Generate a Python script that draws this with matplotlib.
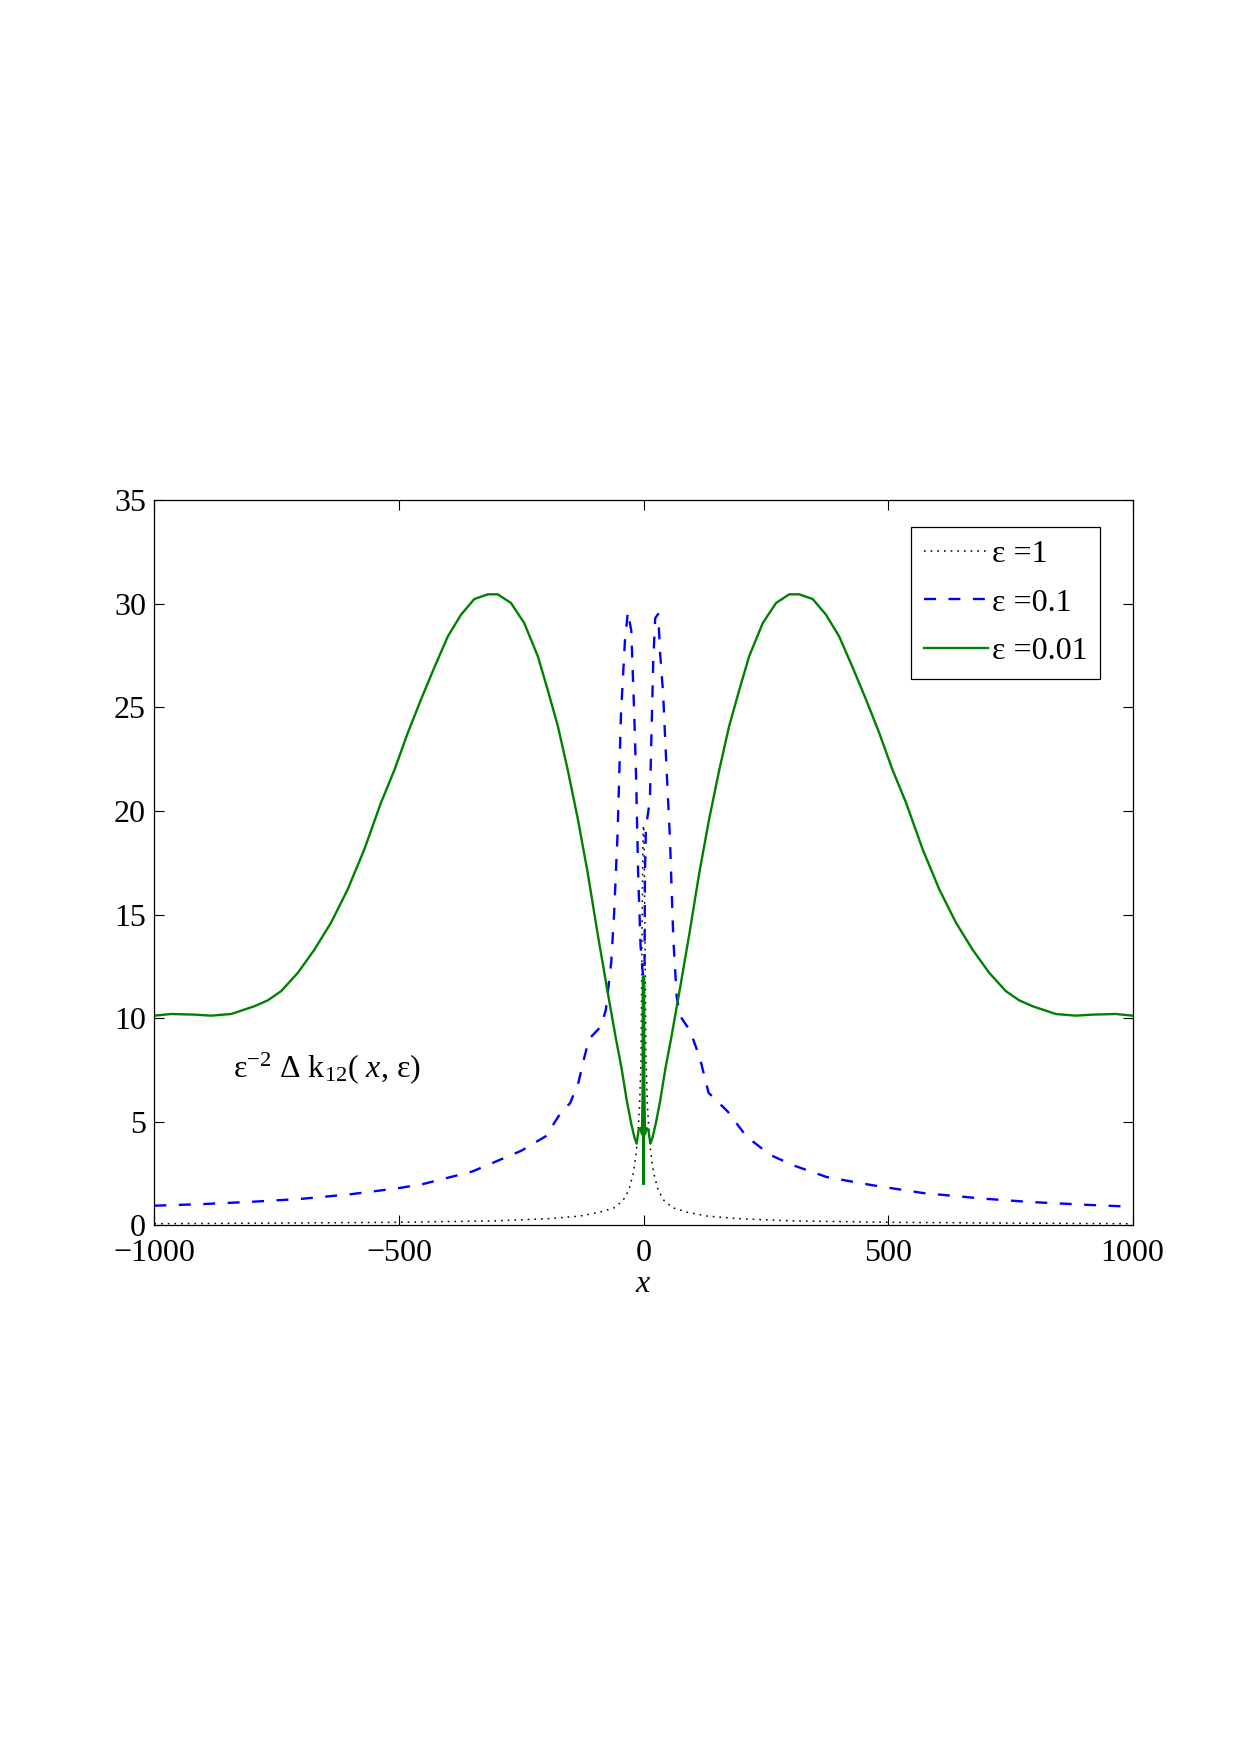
import matplotlib
matplotlib.use("Agg")
import matplotlib.pyplot as plt

plt.rcParams['font.family'] = ['Liberation Serif', 'DejaVu Serif']
plt.rcParams['mathtext.fontset'] = 'custom'
plt.rcParams['mathtext.rm'] = 'Liberation Serif'
plt.rcParams['mathtext.it'] = 'Liberation Serif:italic'
plt.rcParams['lines.scale_dashes'] = False

# ---- data ----
x_eps1 = [-1000, -750, -500, -300, -191, -130, -89, -60, -42, -30, -21, -16, -12, -8, -5, -3, -1, 0,
          1, 3, 5, 8, 12, 16, 21, 30, 42, 60, 89, 130, 191, 300, 500, 750, 1000]
y_eps1 = [0.08, 0.11, 0.15, 0.22, 0.33, 0.45, 0.64, 0.85, 1.2, 1.7, 2.5, 3.3, 4.2, 5.8, 8.0, 14.0, 19.0, 19.3,
          19.0, 14.0, 8.0, 5.8, 4.2, 3.3, 2.5, 1.7, 1.2, 0.85, 0.64, 0.45, 0.33, 0.22, 0.15, 0.11, 0.08]

x_eps01 = [-1000, -900, -800, -700, -600, -500, -450, -400, -350, -300, -250, -200, -170, -150, -133,
           -120, -111, -87, -77, -66, -60, -53, -46, -38, -32, -25, -19, -15, -11, -6, -2, 0,
           2, 3, 5, 13, 20, 24, 30, 34, 40, 47, 54, 61, 68, 75, 95, 115, 133, 172, 210, 259, 306, 375,
           470, 572, 695, 790, 899, 1000]
y_eps01 = [0.95, 1.03, 1.14, 1.28, 1.5, 1.8, 2.0, 2.3, 2.6, 3.1, 3.6, 4.3, 5.4, 5.9, 6.9,
           8.2, 9.0, 9.6, 10.4, 12.7, 15.1, 18.9, 24.7, 28.2, 29.6, 28.7, 24.7, 21.5, 17.0, 13.5, 12.3, 12.0,
           12.3, 17.0, 19.2, 20.5, 27.3, 29.3, 29.5, 27.6, 25.7, 22.1, 18.7, 13.8, 11.0, 10.1, 9.4, 8.1, 6.4, 5.5, 4.3, 3.4,
           2.9, 2.33, 1.93, 1.56, 1.29, 1.13, 1.0, 0.9]

x_eps001 = [-1000, -966, -918, -884, -843, -796, -768, -741, -707, -673, -639, -605, -571, -537, -509,
            -482, -455, -428, -400, -373, -346, -318, -298, -271, -244, -216, -196, -175, -155, -134,
            -114, -94, -73, -56, -45, -34, -25, -18, -14, -10, -6, -3,
            -1.5, -1, -0.5, 0, 0.5, 1, 1.5,
            3, 6, 10, 14, 18, 25, 34, 45, 56, 73, 94, 114, 134, 155, 175, 196, 216, 244, 271, 298, 318,
            346, 373, 400, 428, 455, 482, 509, 537, 571, 605, 639, 673, 707, 741, 768, 796, 843, 884,
            918, 966, 1000]
y_eps001 = [10.12, 10.2, 10.17, 10.12, 10.2, 10.57, 10.86, 11.3, 12.18, 13.3, 14.6, 16.2, 18.13, 20.38, 21.99,
            23.76, 25.37, 26.9, 28.42, 29.47, 30.22, 30.45, 30.45, 30.03, 29.07, 27.46, 25.85, 24.08, 21.99, 19.58,
            17.0, 14.1, 11.22, 8.96, 7.6, 6.0, 4.9, 4.2, 3.95, 4.6, 4.7, 4.4,
            7.0, 12.0, 2.0, 12.0, 2.0, 12.0, 7.0,
            4.4, 4.7, 4.6, 3.95, 4.2, 4.9, 6.0, 7.6, 8.96, 11.22, 14.1, 17.0, 19.58, 21.99, 24.08, 25.85, 27.46, 29.07, 30.03, 30.45, 30.45,
            30.22, 29.47, 28.42, 26.9, 25.37, 23.76, 21.99, 20.38, 18.13, 16.2, 14.6, 13.3, 12.18, 11.3, 10.86, 10.57, 10.2, 10.12,
            10.17, 10.2, 10.12]

labels = ['ε =1', 'ε =0.1', 'ε =0.01']
xticks = [-1000, -500, 0, 500, 1000]
yticks = [0, 5, 10, 15, 20, 25, 30, 35]

# ---- figure ----
fig = plt.figure(figsize=(12.4, 17.55), dpi=100)
ax = fig.add_axes([154.4 / 1240, 1 - 1225.4 / 1755, 978.2 / 1240, 725.4 / 1755])

ax.plot(x_eps1, y_eps1, color='black', lw=1.1, dashes=(1.2, 3.6), label=labels[0])
ax.plot(x_eps01, y_eps01, color='#0000ff', lw=1.7, dashes=(8.6, 9.0), label=labels[1])
ax.plot(x_eps001, y_eps001, color='#008000', lw=1.7, label=labels[2])

ax.set_xlim(-1000, 1000)
ax.set_ylim(0, 35)
ax.set_xticks(xticks)
ax.set_yticks(yticks)
ax.tick_params(axis='both', direction='in', top=True, right=True, length=7, width=0.8, labelsize=23)
ax.tick_params(axis='x', pad=10)
ax.tick_params(axis='y', pad=6)
for s in ax.spines.values():
    s.set_linewidth(0.9)

ax.set_xlabel('$x$', fontsize=23, labelpad=1)

ax.text(-840, 7.6, 'ε$^{−2}$ Δ k$_{12}$( $x$, ε)', fontsize=23, va='center', ha='left')

leg = ax.legend(loc='upper right', bbox_to_anchor=(1100 / 1240, 1 - 527 / 1755),
                bbox_transform=fig.transFigure, fontsize=23, frameon=True, fancybox=False,
                edgecolor='black', framealpha=1, borderaxespad=0, handlelength=2.0,
                handletextpad=0.12, labelspacing=0.6, borderpad=0.4)
leg.get_frame().set_linewidth(0.9)

fig.savefig('out.png', dpi=100)
